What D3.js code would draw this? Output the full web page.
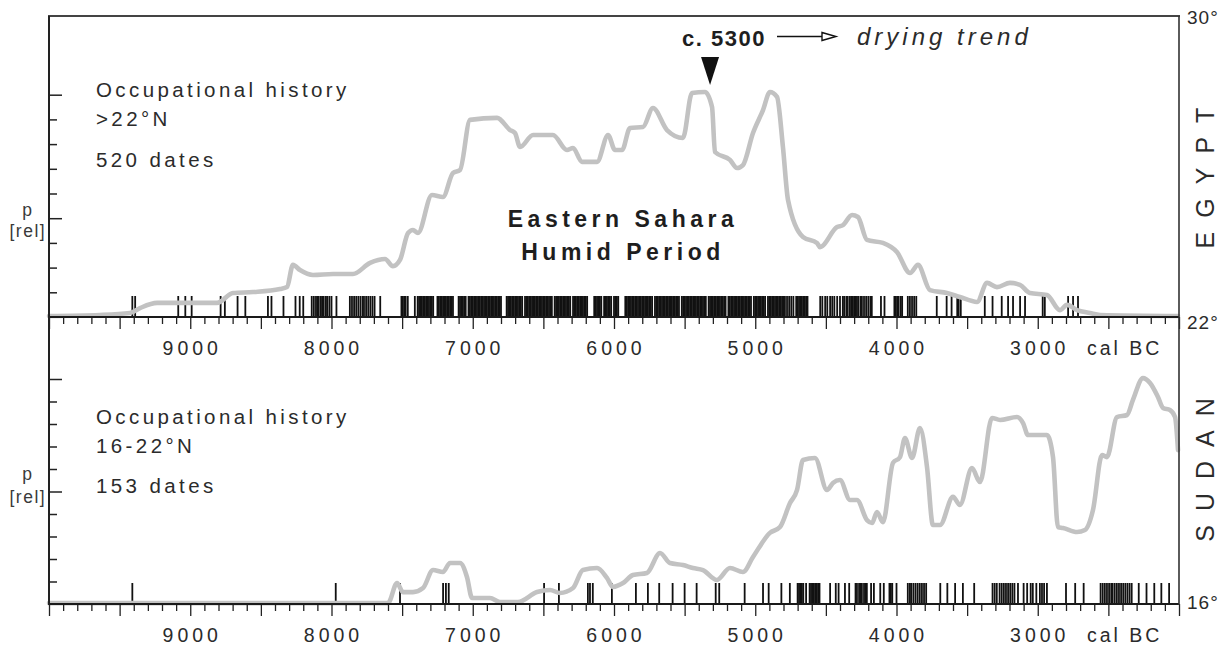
<!DOCTYPE html>
<html><head><meta charset="utf-8">
<script src="https://cdn.jsdelivr.net/npm/d3@7"></script>
<style>
html,body{margin:0;padding:0;background:#fff;}
svg{display:block;}
text{font-family:"Liberation Sans",Arial,Helvetica,sans-serif;fill:#2b2b2b;}
</style></head><body>
<svg id="chart" width="1224" height="648"></svg>
<script>
// ---------------- DATA ----------------
const xTickLabels = [9000, 8000, 7000, 6000, 5000, 4000, 3000];
const xAxisUnit = "cal BC";

// Egypt (>22°N) summed probability curve: [year cal BC, p rel]
const egyptCurve = [
 [10000,0.04],[9639,0.08],[9427,0.16],[9356,0.36],[9235,0.57],[8811,0.57],[8697,0.97],[8556,1.01],
 [8365,1.13],[8315,1.21],[8273,2.11],[8223,1.90],[8131,1.70],[7989,1.74],[7848,1.74],[7727,2.19],
 [7621,2.35],[7565,2.06],[7515,2.31],[7458,3.40],[7423,3.52],[7388,3.40],[7289,4.94],[7211,4.86],
 [7140,5.83],[7090,5.95],[7019,7.98],[6828,8.06],[6736,7.57],[6701,7.45],[6665,6.88],[6573,7.37],
 [6432,7.37],[6333,6.76],[6290,6.84],[6227,6.28],[6120,6.28],[6042,7.37],[5993,6.76],[5943,6.76],
 [5887,7.65],[5795,7.69],[5724,8.46],[5625,7.57],[5512,7.25],[5448,9.07],[5356,9.11],[5306,8.50],
 [5285,6.68],[5179,6.36],[5129,6.03],[5087,6.15],[5016,7.45],[4945,8.38],[4896,9.11],[4846,8.91],
 [4804,6.88],[4768,4.74],[4662,3.24],[4563,3.00],[4542,2.83],[4421,3.64],[4379,3.72],[4315,4.13],
 [4273,4.05],[4209,3.12],[4096,3.00],[3997,2.63],[3904,1.78],[3848,2.11],[3763,1.09],[3643,0.97],
 [3551,0.81],[3430,0.61],[3359,1.38],[3289,1.21],[3197,1.38],[3126,1.30],[3055,0.97],[2935,0.89],
 [2843,0.28],[2793,0.49],[2722,0.28],[2630,0.16],[2559,0.08],[2007,0.04]
];

// Sudan (16-22°N) summed probability curve
const sudanCurve = [
 [10000,0.04],[7600,0.04],[7536,0.93],[7494,0.53],[7423,0.53],[7352,0.71],[7281,1.51],[7211,1.42],
 [7161,1.82],[7090,1.82],[7041,1.20],[7005,0.27],[6878,0.27],[6807,0.09],[6680,0.09],[6545,0.53],
 [6453,0.62],[6382,0.49],[6290,0.71],[6220,1.51],[6120,1.60],[6050,1.16],[6007,0.76],[5936,0.93],
 [5866,1.29],[5767,1.38],[5674,2.27],[5604,1.82],[5512,1.73],[5441,1.60],[5370,1.51],[5271,1.07],
 [5179,1.60],[5087,1.42],[5016,2.09],[4896,3.16],[4825,3.42],[4754,4.49],[4704,5.07],[4662,6.40],
 [4577,6.49],[4492,5.07],[4450,5.38],[4400,5.51],[4329,4.62],[4280,4.62],[4209,3.73],[4173,3.60],
 [4138,4.09],[4096,3.64],[4025,6.27],[3975,6.53],[3940,7.38],[3890,6.49],[3834,7.82],[3784,6.09],
 [3742,3.51],[3692,3.51],[3600,4.76],[3551,4.40],[3466,6.04],[3409,5.42],[3324,8.27],[3267,8.18],
 [3147,8.31],[3104,8.04],[3069,7.51],[2935,7.51],[2892,6.53],[2857,3.42],[2821,3.38],[2722,3.20],
 [2666,3.29],[2609,4.18],[2545,6.62],[2510,6.53],[2439,8.31],[2368,8.40],[2326,9.07],[2255,10.04],
 [2205,9.82],[2149,9.20],[2113,8.71],[2064,8.62],[2028,8.31],[2007,6.84]
];

// individual radiocarbon dates (rug), Egypt
const egyptDates = [
 9410,9390,9085,9035,8990,8785,8755,8665,8610,8450,8425,8340,8255,8225,8200,
 8140,8125,8110,8100,8090,8075,8065,8055,8040,8030,8015,8000,7965,
 7870,7855,7840,7825,7810,7795,7780,7770,7755,7740,7725,7710,7695,7655,
 7505,7495,7485,7475,7460,7410,
 7390,7380,7370,7360,7350,7340,7330,7320,7310,7300,
 7290,7280,7250,7240,7230,7220,7210,7200,
 7190,7180,7170,7160,7150,7140,7100,
 7090,7080,7070,7060,7050,7030,7020,7010,7000,
 6990,6980,6970,6960,6950,6940,6930,6920,6910,6900,
 6890,6880,6870,6860,6850,6840,6830,6820,6810,6800,
 6760,6750,6740,6730,6720,6710,6700,
 6690,6680,6670,6660,6650,6630,6620,6610,6600,
 6590,6580,6570,6560,6550,6540,6530,6520,6510,6500,
 6490,6480,6470,6460,6450,6440,6420,6410,6400,
 6390,6380,6370,6360,6350,6340,6330,6320,6310,
 6290,6280,6270,6260,6250,6240,6230,6220,6210,6200,
 6190,6140,6130,6120,6110,6100,
 6090,6070,6060,6050,6040,6030,6020,6000,
 5990,5980,5970,5920,5910,5900,
 5890,5880,5870,5860,5850,5840,5830,5820,5810,5800,
 5790,5780,5770,5760,5750,5740,5730,5710,5700,
 5690,5680,5670,5660,5650,5640,5630,5620,5610,5600,
 5590,5580,5570,5560,5550,5540,5520,5510,5500,
 5490,5480,5470,5460,5450,5440,5430,5420,5410,5400,
 5390,5380,5370,5360,5350,5330,5320,5310,5300,
 5290,5280,5270,5260,5250,5240,5230,5220,5210,
 5190,5180,5170,5160,5150,5140,5130,5120,5110,5100,
 5090,5080,5070,5060,5050,5040,5030,5010,5000,
 4990,4980,4970,4960,4950,4940,4930,4910,4900,
 4890,4880,4870,4860,4850,4840,4830,4820,4810,4800,4790,
 4775,4760,4745,4730,4710,4700,4690,4680,4670,4660,4650,4640,4630,
 4540,4525,4505,4490,4470,4455,4440,4420,4400,
 4380,4370,4355,4345,4330,4320,4310,4300,4290,4280,4270,4255,4245,4230,4215,4200,4185,4175,
 4110,4085,4015,4005,3995,3985,3970,3960,3920,3905,3890,3875,3860,
 3715,3645,3610,3570,3560,3545,3375,3320,3255,3210,3175,3125,3090,2965,2950,2785,2750,2715
];

// individual radiocarbon dates (rug), Sudan
const sudanDates = [
 9410,7970,7515,7210,7190,7170,6495,6390,6185,6170,6150,6015,5845,5760,5680,5585,5500,5415,
 5280,5255,5075,4945,4905,4815,4755,4700,4690,4680,4670,4660,4640,4615,4605,4595,4585,4575,
 4565,4555,4545,4470,4430,4410,4365,4335,4290,4280,4265,4255,4245,4230,4220,4210,4180,4160,
 4115,4090,4050,4040,4030,4000,3920,3905,3895,3880,3865,3850,3835,3820,3805,3790,3690,3640,
 3585,3530,3450,3320,3305,3290,3270,3255,3240,3225,3210,3195,3180,3165,3140,3100,3075,3050,
 3035,3010,2985,2970,2955,2935,2800,2735,2675,2555,2540,2525,2510,2495,2480,2470,2455,2440,
 2425,2410,2395,2380,2365,2350,2335,2285,2230,2175,2125,2070
];

const egyptYTicks = [1,2,3,4,5,6,7,8,9];
const egyptYMajor = [4,9];
const sudanYTicks = [1,2,3,4,5,6,7,8,9,10];
const sudanYMajor = [5,10];
const xMinorTicks = d3.range(2000, 10001, 100);

const egyptLabel = ["Occupational history", ">22°N", "520 dates"];
const sudanLabel = ["Occupational history", "16-22°N", "153 dates"];
const humidLabel = ["Eastern Sahara", "Humid Period"];
const markerYear = 5320;
const markerLabel = "c. 5300";
const trendLabel = "drying trend";

// ---------------- DRAW ----------------
const svg = d3.select("#chart");
const L = 49, R = 1179, T = 16, TB = 317, BB = 604;

const x = d3.scaleLinear().domain([10000, 2000]).range([L, R]);
const yTop = d3.scaleLinear().domain([0, 9]).range([TB, 94.7]);
const yBot = d3.scaleLinear().domain([0, 10]).range([BB, 379]);

// rugs
function rug(dates, base) {
  svg.append("g").selectAll("line").data(dates).join("line")
    .attr("x1", d => x(d)).attr("x2", d => x(d))
    .attr("y1", base - 21).attr("y2", base)
    .attr("stroke", "#111").attr("stroke-width", 1.8);
}
rug(egyptDates, TB);
rug(sudanDates, BB);

// curves
const lineTop = d3.line().x(d => x(d[0])).y(d => yTop(d[1])).curve(d3.curveMonotoneX);
const lineBot = d3.line().x(d => x(d[0])).y(d => yBot(d[1])).curve(d3.curveMonotoneX);
[[egyptCurve, lineTop], [sudanCurve, lineBot]].forEach(([data, gen]) => {
  svg.append("path").datum(data).attr("d", gen)
    .attr("fill", "none").attr("stroke", "#c2c2c2").attr("stroke-width", 4.6)
    .attr("stroke-linejoin", "round").attr("stroke-linecap", "round");
});

// x axes
function xAxis(base) {
  const g = svg.append("g").attr("transform", `translate(0,${base})`)
    .call(d3.axisBottom(x).tickValues(xMinorTicks).tickSize(7).tickFormat(""));
  g.select(".domain").remove();
  g.selectAll(".tick line").attr("stroke", "#222").attr("stroke-width", 1.3)
    .attr("y2", d => d % 500 === 0 ? 12 : 7);
  svg.append("line").attr("x1", L).attr("x2", R).attr("y1", base).attr("y2", base)
    .attr("stroke", "#1a1a1a").attr("stroke-width", 2);
}
xAxis(TB);
xAxis(BB);

// y axes
function yAxis(scale, ticks, major) {
  const g = svg.append("g").attr("transform", `translate(${L},0)`)
    .call(d3.axisRight(scale).tickValues(ticks).tickSize(8).tickFormat(""));
  g.select(".domain").remove();
  g.selectAll(".tick line").attr("stroke", "#222").attr("stroke-width", 1.5)
    .attr("x2", d => major.includes(d) ? 13 : 8);
}
yAxis(yTop, egyptYTicks, egyptYMajor);
yAxis(yBot, sudanYTicks, sudanYMajor);

// frame
svg.append("line").attr("x1", L - 1).attr("x2", R + 1).attr("y1", T).attr("y2", T)
  .attr("stroke", "#444").attr("stroke-width", 2);
svg.append("line").attr("x1", L).attr("x2", L).attr("y1", T).attr("y2", BB + 1)
  .attr("stroke", "#222").attr("stroke-width", 2);
svg.append("line").attr("x1", R).attr("x2", R).attr("y1", T).attr("y2", BB + 1)
  .attr("stroke", "#333").attr("stroke-width", 1.6);

// x tick labels
function xLabels(yb) {
  svg.append("g").selectAll("text").data(xTickLabels).join("text")
    .attr("x", d => x(d) + 2).attr("y", yb).attr("text-anchor", "middle")
    .style("font-size", "19.5px").style("letter-spacing", "4px").text(d => d);
  svg.append("text").attr("x", 1087).attr("y", yb)
    .style("font-size", "19.5px").style("letter-spacing", "3px").text(xAxisUnit);
}
xLabels(355);
xLabels(642);

// y labels
function pLabel(yp, yr) {
  svg.append("text").attr("x", 27).attr("y", yp).attr("text-anchor", "middle")
    .style("font-size", "17.5px").style("fill", "#3a3a3a").text("p");
  svg.append("text").attr("x", 27).attr("y", yr).attr("text-anchor", "middle")
    .attr("dx", 0.8)
    .style("font-size", "17.5px").style("letter-spacing", "1.5px").style("fill", "#3a3a3a").text("[rel]");
}
pLabel(216, 237);
pLabel(480, 503);

// latitude labels
[["30°", 24], ["22°", 329], ["16°", 609]].forEach(([t, yb]) => {
  svg.append("text").attr("x", 1187).attr("y", yb)
    .style("font-size", "19px").style("letter-spacing", "1px").text(t);
});
[["EGYPT", 178], ["SUDAN", 470]].forEach(([t, yc]) => {
  svg.append("text").attr("transform", `translate(1214,${yc}) rotate(-90)`)
    .attr("text-anchor", "middle").attr("dx", 7)
    .style("font-size", "25px").style("letter-spacing", "14px").text(t);
});

// occupational history labels
function occ(lines, ys) {
  lines.forEach((t, i) => {
    svg.append("text").attr("x", 96).attr("y", ys[i])
      .style("font-size", "20.5px").style("letter-spacing", "3.4px").text(t);
  });
}
occ(egyptLabel, [97, 126, 167]);
occ(sudanLabel, [424, 453, 493]);

// humid period
humidLabel.forEach((t, i) => {
  svg.append("text").attr("x", 621).attr("y", [227, 260][i]).attr("text-anchor", "middle")
    .attr("dx", 2)
    .style("font-size", "23px").style("font-weight", "bold").style("letter-spacing", "4.5px")
    .style("fill", "#1e1e1e").text(t);
});

// c. 5300 marker
const mx = x(markerYear);
svg.append("path").attr("d", `M${mx - 9},57 L${mx + 9},57 L${mx},85 Z`).attr("fill", "#111");
svg.append("text").attr("x", 766).attr("y", 46).attr("text-anchor", "end")
  .style("font-size", "22px").style("font-weight", "bold").style("letter-spacing", "1.5px")
  .style("fill", "#1e1e1e").text(markerLabel);
svg.append("line").attr("x1", 777).attr("x2", 822).attr("y1", 36.5).attr("y2", 36.5)
  .attr("stroke", "#111").attr("stroke-width", 1.5);
svg.append("path").attr("d", "M822,32.5 L836,36.5 L822,40.5 Z")
  .attr("fill", "#fff").attr("stroke", "#111").attr("stroke-width", 1.4);
svg.append("text").attr("x", 857).attr("y", 45)
  .style("font-size", "24px").style("font-style", "italic").style("letter-spacing", "4px")
  .text(trendLabel);
</script>
</body></html>
